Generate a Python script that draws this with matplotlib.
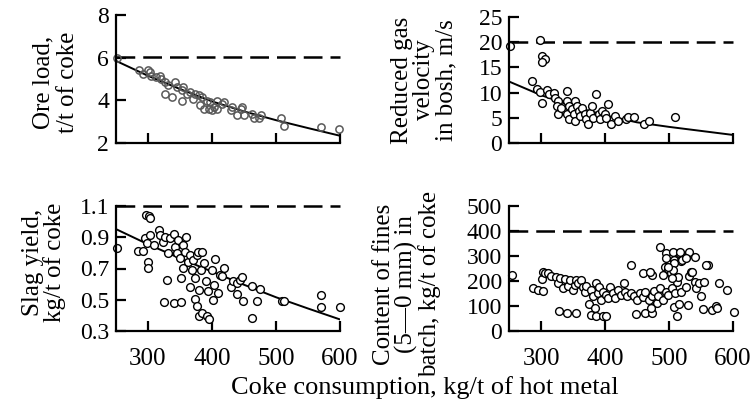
import numpy as np
import matplotlib
matplotlib.use("Agg")
import matplotlib.pyplot as plt

plt.rcParams['font.family'] = ['Liberation Serif', 'DejaVu Serif']

# ---- data ----
# ore load, t/t of coke
ore_x = [251, 286, 292, 300, 303, 305, 313, 318, 321, 326, 326, 337, 332, 342, 345,
         353, 353, 355, 361, 366, 371, 374, 379, 382, 384, 387, 392, 395, 397, 400,
         403, 408, 408, 416, 418, 429, 432, 439, 445, 447, 450, 463, 466, 474, 476,
         508, 512, 570, 599]
ore_y = [5.97, 5.44, 5.24, 5.44, 5.32, 5.13, 5.09, 5.16, 4.98, 4.85, 4.31, 4.16, 4.70, 4.85, 4.62,
         4.47, 3.95, 4.62, 4.31, 4.39, 4.08, 4.31, 4.23, 3.77, 4.16, 3.61, 3.98, 3.61, 3.92, 3.54,
         3.69, 3.98, 3.61, 3.84, 3.92, 3.54, 3.69, 3.30, 3.61, 3.69, 3.30, 3.38, 3.15, 3.15, 3.30,
         3.15, 2.81, 2.76, 2.65]
ore_fit_x = [250, 300, 350, 400, 450, 500, 550, 600]
ore_fit_y = [5.85, 5.15, 4.53, 3.95, 3.48, 3.07, 2.70, 2.34]
ore_limit = 6.05

# reduced gas velocity in bosh, m/s
gas_x = [252, 298, 302, 306, 302, 286, 294, 299, 301, 309, 312, 320, 322, 327, 325,
         327, 332, 340, 340, 343, 340, 343, 348, 351, 353, 353, 356, 359, 361, 364,
         369, 371, 374, 377, 379, 382, 386, 390, 392, 395, 400, 402, 405, 410, 415,
         420, 433, 436, 446, 461, 468, 510]
gas_y = [19.2, 20.5, 17.2, 16.7, 16.0, 12.3, 10.7, 10.1, 8.0, 10.5, 9.7, 10.0, 9.0, 8.3, 7.3,
         5.7, 7.0, 10.3, 8.3, 7.3, 5.7, 4.7, 6.7, 5.7, 8.3, 4.3, 7.3, 6.3, 5.3, 7.0,
         5.7, 4.7, 3.7, 6.0, 7.3, 5.0, 9.7, 5.7, 4.7, 6.3, 5.7, 5.0, 7.7, 3.7, 5.3,
         4.3, 4.7, 5.2, 5.2, 3.7, 4.3, 5.2]
gas_fit_x = [250, 300, 350, 400, 450, 500, 550, 600]
gas_fit_y = [12.2, 9.5, 7.3, 5.5, 4.1, 3.2, 2.4, 1.6]
gas_limit = 20

# slag yield, kg/t of coke
slag_x = [251, 284, 292, 297, 301, 303, 295, 298, 303, 300, 300, 310, 317, 319, 324,
          326, 329, 325, 331, 334, 340, 340, 342, 345, 347, 350, 351, 352, 354, 355,
          358, 360, 363, 366, 366, 368, 371, 374, 374, 376, 377, 379, 378, 380, 383,
          384, 384, 388, 390, 392, 393, 396, 400, 401, 403, 405, 410, 413, 416, 419,
          429, 433, 439, 439, 444, 447, 448, 463, 463, 470, 475, 510, 512, 570, 570,
          600]
slag_y = [0.833, 0.812, 0.812, 1.045, 1.037, 1.026, 0.897, 0.861, 0.914, 0.744, 0.702, 0.850, 0.946, 0.914, 0.871,
          0.903, 0.628, 0.486, 0.797, 0.893, 0.920, 0.480, 0.840, 0.797, 0.882, 0.765, 0.486, 0.639, 0.850, 0.702,
          0.808, 0.903, 0.744, 0.787, 0.579, 0.692, 0.755, 0.639, 0.505, 0.459, 0.787, 0.395, 0.808, 0.564, 0.692,
          0.808, 0.416, 0.734, 0.618, 0.395, 0.554, 0.374, 0.692, 0.501, 0.596, 0.761, 0.544, 0.660, 0.649, 0.702,
          0.579, 0.618, 0.607, 0.537, 0.628, 0.643, 0.495, 0.385, 0.586, 0.495, 0.569, 0.495, 0.495, 0.529, 0.452,
          0.452]
slag_fit_x = [250, 300, 350, 400, 450, 500, 550, 600]
slag_fit_y = [0.952, 0.855, 0.765, 0.680, 0.596, 0.516, 0.444, 0.374]
slag_limit = 1.1

# content of fines (5-0 mm) in batch, kg/t of coke
fines_x = [254, 288, 295, 303, 301, 303, 307, 311, 316, 324, 327, 330, 334, 337, 342,
           345, 350, 353, 355, 358, 363, 366, 369, 371, 375, 378, 381, 384, 386, 389,
           390, 394, 397, 402, 404, 408, 412, 416, 420, 425, 430, 432, 435, 440, 445,
           450, 455, 460, 463, 468, 473, 476, 481, 483, 486, 491, 496, 499, 504, 509,
           512, 514, 519, 527, 532, 534, 540, 542, 547, 550, 555, 561, 578, 591,
           460, 474, 470, 490, 494, 499, 503, 505, 508, 515, 518, 526, 441,
           328, 340, 354, 378, 386, 397, 402, 449, 463, 474, 472, 512, 508, 516, 530,
           553, 567, 573, 575, 601,
           486, 495, 495, 506, 508, 517, 531, 520, 526, 540, 506, 498, 558, 536]
fines_y = [224, 174, 165, 161, 207, 238, 234, 231, 220, 218, 191, 211, 172, 207, 181,
           205, 165, 185, 205, 194, 205, 176, 158, 181, 110, 165, 139, 92, 194, 152,
           178, 125, 158, 145, 132, 176, 152, 132, 165, 145, 194, 158, 141, 152, 139,
           125, 152, 136, 158, 125, 139, 162, 112, 139, 172, 125, 158, 145, 172, 152,
           198, 215, 158, 178, 220, 238, 198, 172, 191, 139, 198, 264, 191, 165,
           231, 224, 238, 224, 255, 247, 231, 211, 286, 313, 281, 297, 264,
           79, 73, 73, 66, 59, 62, 62, 69, 73, 73, 92, 62, 96, 110, 106,
           88, 83, 99, 92, 78,
           337, 311, 291, 317, 271, 317, 317, 286, 291, 298, 246, 258, 266, 238]
fines_limit = 400

x_ticks = [300, 400, 500, 600]
xlabel = "Coke consumption, kg/t of hot metal"

W, H = 754, 405
fig = plt.figure(figsize=(W / 100, H / 100), dpi=100)


def make_axes(left, top, right, bottom):
    # pixel box -> figure fraction
    return fig.add_axes([left / W, 1 - bottom / H, (right - left) / W, (bottom - top) / H])


def style(ax, ylim, yticks, ylabels, show_x):
    ax.set_xlim(250, 600)
    ax.set_ylim(*ylim)
    for s in ['top', 'right']:
        ax.spines[s].set_visible(False)
    for s in ['left', 'bottom']:
        ax.spines[s].set_linewidth(1.6)
    ax.set_xticks(x_ticks)
    ax.set_yticks(yticks)
    ax.set_yticklabels(ylabels)
    if show_x:
        ax.set_xticklabels([str(t) for t in x_ticks])
    else:
        ax.set_xticklabels([])
    ax.tick_params(axis='both', direction='in', length=7, width=1.6)
    ax.tick_params(axis='y', labelsize=17, pad=5)
    ax.tick_params(axis='x', labelsize=18, pad=12)
    ax.patch.set_alpha(0)


def limit_line(ax, y):
    ax.plot([250, 600], [y, y], color='black', lw=1.8, dashes=(7.5, 3.2), clip_on=False)


# top left: ore load
ax1 = make_axes(116, 15, 340, 143)
style(ax1, (2, 8), [2, 4, 6, 8], ['2', '4', '6', '8'], False)
limit_line(ax1, ore_limit)
ax1.plot(ore_fit_x, ore_fit_y, color='black', lw=1.4)
ax1.plot(ore_x, ore_y, 'o', ms=5.2, mfc='none', mec='0.35', mew=1.1, clip_on=False)

# top right: gas velocity
ax2 = make_axes(509, 17, 733, 143)
style(ax2, (0, 25), [0, 5, 10, 15, 20, 25], ['0', '5', '10', '15', '20', '25'], False)
limit_line(ax2, gas_limit)
ax2.plot(gas_fit_x, gas_fit_y, color='black', lw=1.4)
ax2.plot(gas_x, gas_y, 'o', ms=5.6, mfc='white', mec='black', mew=1.0, clip_on=False)

# bottom left: slag yield
ax3 = make_axes(116, 206, 340, 331)
style(ax3, (0.3, 1.1), [0.3, 0.5, 0.7, 0.9, 1.1], ['0.3', '0.5', '0.7', '0.9', '1.1'], True)
limit_line(ax3, slag_limit)
ax3.plot(slag_fit_x, slag_fit_y, color='black', lw=1.4)
ax3.plot(slag_x, slag_y, 'o', ms=5.6, mfc='white', mec='black', mew=1.0, clip_on=False)

# bottom right: fines
ax4 = make_axes(509, 206, 733, 331)
style(ax4, (0, 500), [0, 100, 200, 300, 400, 500], ['0', '100', '200', '300', '400', '500'], True)
limit_line(ax4, fines_limit)
ax4.plot(fines_x, fines_y, 'o', ms=5.6, mfc='white', mec='black', mew=1.0, clip_on=False)

# y labels as free text
lab_kw = dict(rotation=90, ha='center', va='center', multialignment='center', fontsize=18)
fig.text(56 / W, 1 - 82 / H, "Ore load,\nt/t of coke", linespacing=1.15, **lab_kw)
fig.text(424 / W, 1 - 80 / H, "Reduced gas\nvelocity\nin bosh, m/s", linespacing=1.0, **lab_kw)
fig.text(44 / W, 1 - 262 / H, "Slag yield,\nkg/t of coke", linespacing=1.0, **lab_kw)
fig.text(407 / W, 1 - 284 / H, "Content of fines\n(5\u20140 mm) in\nbatch, kg/t of coke",
         linespacing=1.0, **lab_kw)

fig.text(425 / W, 1 - 388 / H, xlabel, ha='center', va='center', fontsize=19)

fig.savefig("out.png", dpi=100)
